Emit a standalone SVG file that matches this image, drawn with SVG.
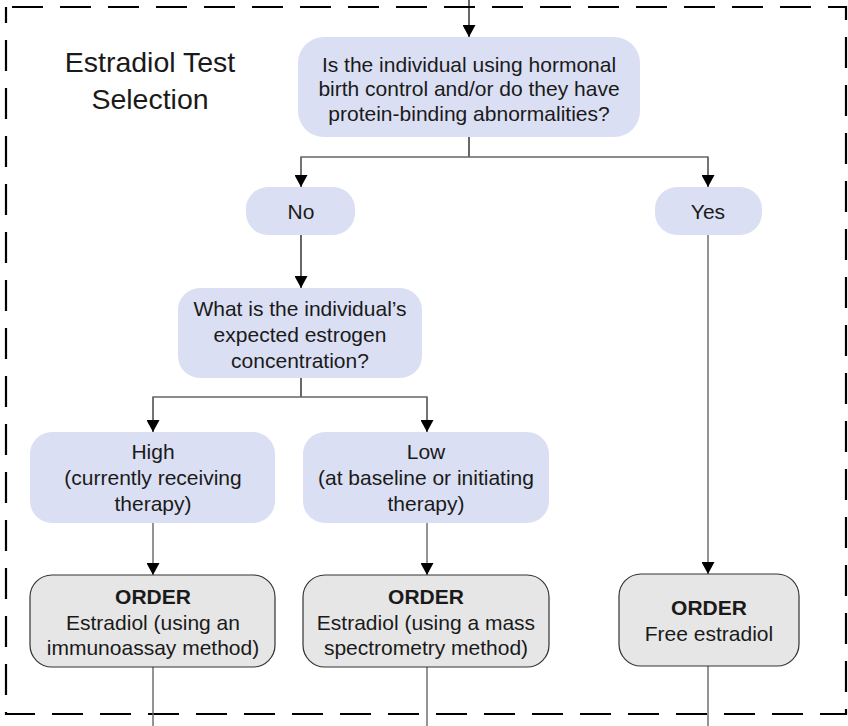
<svg xmlns="http://www.w3.org/2000/svg" width="848" height="726" viewBox="0 0 848 726">
<defs>
<marker id="ah" viewBox="0 0 12 13" refX="12" refY="6.5" markerWidth="12" markerHeight="13" markerUnits="userSpaceOnUse" orient="auto">
<path d="M0,0 L12,6.5 L0,13 Z" fill="#000"/>
</marker>
<style>
.q{fill:#dadff3;stroke:none}
.o{fill:#e6e6e6;stroke:#333;stroke-width:1.2}
.t{font-family:"Liberation Sans",Arial,sans-serif;font-size:21px;fill:#1a1a1a;text-anchor:middle}
.b{font-weight:bold}
.ln{fill:none;stroke:#666;stroke-width:1.4}
.st{fill:none;stroke:#000;stroke-width:1.2}
.title{font-family:"Liberation Sans",Arial,sans-serif;font-size:28.5px;fill:#1a1a1a;text-anchor:middle}
</style>
</defs>
<rect x="6" y="7" width="840" height="707" fill="none" stroke="#000" stroke-width="2.2" stroke-dasharray="31,17" stroke-dashoffset="-6"/>
<g id="title"><text class="title" x="150" y="72">Estradiol Test</text><text class="title" x="150" y="109">Selection</text></g>
<g id="connectors">
<line class="st" x1="469" y1="0" x2="469" y2="37" marker-end="url(#ah)"/>
<line class="st" x1="469" y1="137" x2="469" y2="157"/>
<polyline class="ln" points="301,187 301,157 708,157 708,187"/>
<line class="ln" x1="301" y1="157" x2="301" y2="187" marker-end="url(#ah)"/>
<line class="ln" x1="708" y1="157" x2="708" y2="187" marker-end="url(#ah)"/>
<line class="st" x1="301" y1="235" x2="301" y2="288" marker-end="url(#ah)"/>
<line class="st" x1="301" y1="378" x2="301" y2="397"/>
<polyline class="ln" points="153,432 153,397 427,397 427,432"/>
<line class="ln" x1="153" y1="397" x2="153" y2="432" marker-end="url(#ah)"/>
<line class="ln" x1="427" y1="397" x2="427" y2="432" marker-end="url(#ah)"/>
<line class="ln" x1="153" y1="523" x2="153" y2="575" marker-end="url(#ah)"/>
<line class="ln" x1="427" y1="523" x2="427" y2="575" marker-end="url(#ah)"/>
<line class="ln" x1="708" y1="235" x2="708" y2="574" marker-end="url(#ah)"/>
<line class="ln" x1="153" y1="667" x2="153" y2="726"/>
<line class="ln" x1="427" y1="667" x2="427" y2="726"/>
<line class="ln" x1="708" y1="666" x2="708" y2="726"/>
</g>
<g id="q1"><rect class="q" x="298" y="37" width="342" height="100" rx="26"/>
<text class="t" x="469" y="71.5">Is the individual using hormonal</text>
<text class="t" x="469" y="96">birth control and/or do they have</text>
<text class="t" x="469" y="120.5">protein-binding abnormalities?</text></g>
<g id="no"><rect class="q" x="246" y="187" width="109" height="48" rx="22"/><text class="t" x="301" y="218.5">No</text></g>
<g id="yes"><rect class="q" x="655" y="187" width="107" height="48" rx="22"/><text class="t" x="708" y="218.5">Yes</text></g>
<g id="q2"><rect class="q" x="178" y="288" width="244" height="90" rx="22"/>
<text class="t" x="300" y="315.5">What is the individual’s</text>
<text class="t" x="300" y="341.5">expected estrogen</text>
<text class="t" x="300" y="367.5">concentration?</text></g>
<g id="high"><rect class="q" x="30" y="432" width="245" height="91" rx="22"/>
<text class="t" x="153" y="458.5">High</text>
<text class="t" x="153" y="484.5">(currently receiving</text>
<text class="t" x="153" y="510.5">therapy)</text></g>
<g id="low"><rect class="q" x="303" y="432" width="246" height="91" rx="22"/>
<text class="t" x="426" y="458.5">Low</text>
<text class="t" x="426" y="484.5">(at baseline or initiating</text>
<text class="t" x="426" y="510.5">therapy)</text></g>
<g id="o1"><rect class="o" x="30" y="575" width="245" height="92" rx="22"/>
<text class="t b" x="153" y="603.5">ORDER</text>
<text class="t" x="153" y="629.5">Estradiol (using an</text>
<text class="t" x="153" y="654.5">immunoassay method)</text></g>
<g id="o2"><rect class="o" x="303" y="575" width="246" height="92" rx="22"/>
<text class="t b" x="426" y="603.5">ORDER</text>
<text class="t" x="426" y="629.5">Estradiol (using a mass</text>
<text class="t" x="426" y="654.5">spectrometry method)</text></g>
<g id="o3"><rect class="o" x="619" y="574" width="180" height="92" rx="22"/>
<text class="t b" x="709" y="614.5">ORDER</text>
<text class="t" x="709" y="640.5">Free estradiol</text></g>
</svg>
